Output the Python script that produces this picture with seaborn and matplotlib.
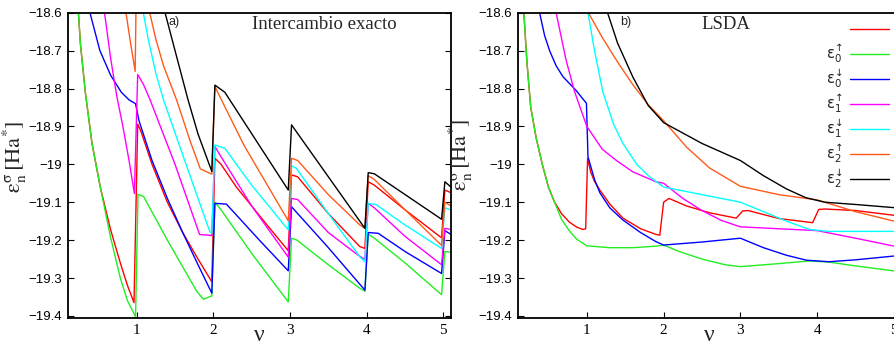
import matplotlib
matplotlib.use("Agg")
import matplotlib.pyplot as plt
import seaborn as sns

# ---------------- data: (a) Intercambio exacto ----------------
EXX_RED_X = [0.24, 0.265, 0.33, 0.417, 0.525, 0.656, 0.786, 0.88, 0.965,
             1.013, 1.05, 1.2, 1.4, 1.6, 1.8, 1.98,
             2.02, 2.1, 2.3, 2.5, 2.7, 2.977,
             3.02, 3.1, 3.5, 3.91, 3.977,
             4.02, 4.1, 4.5, 4.977, 5.02, 5.1]
EXX_RED_Y = [-18.6, -18.68, -18.81, -18.945, -19.06, -19.17, -19.26, -19.32, -19.365,
             -18.894, -18.91, -19.0, -19.1, -19.18, -19.25, -19.31,
             -18.984, -19.0, -19.06, -19.11, -19.16, -19.228,
             -19.028, -19.033, -19.13, -19.217, -19.222,
             -19.046, -19.055, -19.12, -19.194, -19.068, -19.075]

EXX_GREEN_X = [0.24, 0.265, 0.33, 0.417, 0.525, 0.656, 0.786, 0.88, 0.985,
               1.017, 1.09, 1.4, 1.786, 1.87, 1.98,
               2.02, 2.1, 2.5, 2.977,
               3.02, 3.09, 3.5, 3.91, 3.977,
               4.02, 4.1, 4.5, 4.977, 5.02, 5.1]
EXX_GREEN_Y = [-18.6, -18.68, -18.81, -18.945, -19.06, -19.19, -19.3, -19.36, -19.402,
               -19.079, -19.085, -19.2, -19.336, -19.356, -19.347,
               -19.1, -19.12, -19.235, -19.363,
               -19.195, -19.2, -19.265, -19.327, -19.335,
               -19.184, -19.195, -19.26, -19.344, -19.23, -19.232]

EXX_BLUE_X = [0.39, 0.52, 0.66, 0.8, 0.9, 0.985,
              1.03, 1.2, 1.4, 1.6, 1.8, 1.98,
              2.02, 2.17, 2.6, 2.977,
              3.02, 3.5, 3.977,
              4.02, 4.15, 4.5, 4.977, 5.02, 5.1]
EXX_BLUE_Y = [-18.6, -18.7, -18.765, -18.81, -18.83, -18.84,
              -18.885, -18.99, -19.09, -19.18, -19.265, -19.34,
              -19.103, -19.105, -19.2, -19.281,
              -19.112, -19.22, -19.332,
              -19.18, -19.182, -19.23, -19.288, -19.175, -19.185]

EXX_MAGENTA_X = [0.58, 0.66, 0.74, 0.82, 0.9, 0.97,
                 1.013, 1.09, 1.175, 1.5, 1.82, 1.98,
                 2.02, 2.1, 2.5, 2.977,
                 3.02, 3.1, 3.5, 3.89, 3.977,
                 4.02, 4.1, 4.5, 4.977, 5.02, 5.1]
EXX_MAGENTA_Y = [-18.6, -18.72, -18.82, -18.9, -18.99, -19.077,
                 -18.763, -18.79, -18.83, -19.0, -19.185, -19.188,
                 -18.953, -18.98, -19.11, -19.245,
                 -19.09, -19.093, -19.18, -19.24, -19.251,
                 -19.103, -19.115, -19.19, -19.265, -19.169, -19.172]

EXX_CYAN_X = [1.086, 1.15, 1.25, 1.35, 1.6, 1.8, 1.955, 1.98,
              2.02, 2.15, 2.5, 2.977,
              3.02, 3.08, 3.5, 3.91, 3.977,
              4.02, 4.12, 4.5, 4.977, 5.02, 5.1]
EXX_CYAN_Y = [-18.6, -18.67, -18.76, -18.83, -18.975, -19.09, -19.178, -19.182,
              -18.949, -18.958, -19.055, -19.173,
              -19.004, -19.01, -19.13, -19.244, -19.257,
              -19.103, -19.106, -19.16, -19.222, -19.115, -19.12]

EXX_ORANGE_X = [0.86, 0.92, 0.98, 1.0,
                1.17, 1.25, 1.35, 1.52, 1.7, 1.83, 1.98,
                2.02, 2.4, 2.977,
                3.02, 3.1, 3.5, 3.91, 3.977,
                4.02, 4.1, 4.5, 4.977, 5.02, 5.1]
EXX_ORANGE_Y = [-18.6, -18.68, -18.755, -18.45,
                -18.6, -18.67, -18.74, -18.83, -18.94, -19.012, -19.026,
                -18.795, -18.95, -19.149,
                -18.984, -18.99, -19.08, -19.16, -19.169,
                -19.03, -19.04, -19.12, -19.214, -19.1, -19.11]

EXX_BLACK_X = [1.37, 1.5, 1.67, 1.8, 1.98,
               2.02, 2.15, 2.977,
               3.02, 3.977,
               4.02, 4.1, 4.977, 5.02, 5.1]
EXX_BLACK_Y = [-18.6, -18.7, -18.83, -18.92, -19.019,
               -18.791, -18.81, -19.068,
               -18.896, -19.169,
               -19.022, -19.025, -19.145, -19.046, -19.06]

# ---------------- data: (b) LSDA ----------------
LSDA_RED_X = [0.18, 0.22, 0.27, 0.34, 0.42, 0.5, 0.58, 0.67, 0.77, 0.87, 0.95, 0.985,
              1.01, 1.05, 1.1, 1.17, 1.3, 1.47, 1.7, 1.9, 1.95,
              2.0, 2.07, 2.3, 2.6, 2.945,
              3.03, 3.1, 3.5, 3.94,
              4.02, 4.1, 4.5, 5.1]
LSDA_RED_Y = [-18.6, -18.73, -18.85, -18.93, -19.0, -19.06, -19.1, -19.13, -19.152, -19.166, -19.172, -19.17,
              -18.984, -19.02, -19.045, -19.068, -19.105, -19.142, -19.17, -19.185, -19.187,
              -19.1, -19.09, -19.11, -19.128, -19.142,
              -19.123, -19.122, -19.143, -19.154,
              -19.119, -19.118, -19.122, -19.137]

LSDA_GREEN_X = [0.18, 0.22, 0.27, 0.34, 0.42, 0.5, 0.58, 0.67, 0.77, 0.87, 1.0,
                1.3, 1.6, 1.9, 2.0, 2.2, 2.5, 2.8, 3.0, 3.5, 3.9, 4.15, 4.5, 5.1]
LSDA_GREEN_Y = [-18.6, -18.73, -18.85, -18.93, -19.0, -19.06, -19.1, -19.145, -19.175, -19.198, -19.215,
                -19.22, -19.22, -19.216, -19.213, -19.23, -19.25, -19.265, -19.27, -19.262, -19.255, -19.258, -19.268, -19.284]

LSDA_BLUE_X = [0.385, 0.45, 0.515, 0.6, 0.69, 0.86, 0.995,
               1.015, 1.1, 1.17, 1.3, 1.47, 1.7, 1.9, 2.0, 2.5, 3.0, 3.3, 3.6, 3.86, 4.15, 4.5, 5.1]
LSDA_BLUE_Y = [-18.6, -18.66, -18.7, -18.74, -18.769, -18.805, -18.839,
               -18.98, -19.04, -19.075, -19.115, -19.147, -19.18, -19.204, -19.213, -19.205, -19.195, -19.22, -19.24, -19.253, -19.257, -19.252, -19.24]

LSDA_MAGENTA_X = [0.6, 0.73, 0.84, 1.0, 1.2, 1.385, 1.6, 1.9, 2.0, 2.25, 2.5, 2.75, 3.0, 3.5, 4.0, 4.5, 5.1]
LSDA_MAGENTA_Y = [-18.6, -18.725, -18.808, -18.9, -18.96, -18.99, -19.02, -19.046, -19.05, -19.09, -19.122, -19.148, -19.165, -19.17, -19.175, -19.195, -19.22]

LSDA_CYAN_X = [1.015, 1.1, 1.21, 1.35, 1.47, 1.65, 1.8, 2.0, 2.5, 3.0, 3.3, 3.6, 3.9, 4.15, 5.1]
LSDA_CYAN_Y = [-18.6, -18.7, -18.81, -18.895, -18.945, -19.0, -19.03, -19.06, -19.08, -19.1, -19.125, -19.15, -19.172, -19.177, -19.177]

LSDA_ORANGE_X = [1.02, 1.2, 1.4, 1.6, 1.8, 2.0, 2.3, 2.6, 3.0, 3.5, 4.0, 4.5, 5.1]
LSDA_ORANGE_Y = [-18.6, -18.665, -18.73, -18.79, -18.843, -18.885, -18.955, -19.01, -19.058, -19.08, -19.094, -19.125, -19.155]

LSDA_BLACK_X = [1.27, 1.4, 1.6, 1.8, 2.0, 2.5, 3.0, 3.3, 3.6, 3.85, 4.1, 4.5, 5.1]
LSDA_BLACK_Y = [-18.6, -18.68, -18.77, -18.845, -18.89, -18.945, -18.99, -19.03, -19.065, -19.088, -19.1, -19.106, -19.116]

COLORS = ["#ff0000", "#22ee22", "#0000ff", "#ff00ff", "#00ffff", "#ff5a1a", "#000000"]
LEGEND_LABELS = [r"$\mathregular{ε_0^{↑}}$", r"$\mathregular{ε_0^{↑}}$",
                 r"$\mathregular{ε_0^{↓}}$", r"$\mathregular{ε_1^{↑}}$",
                 r"$\mathregular{ε_1^{↓}}$", r"$\mathregular{ε_2^{↑}}$",
                 r"$\mathregular{ε_2^{↓}}$"]
YLABEL = r"$\mathrm{ε}_{\mathrm{n}}^{\mathrm{σ}}\,[\mathrm{Ha}^{*}]$"
XLABEL = "\u03bd"
YTICKS = [-18.6, -18.7, -18.8, -18.9, -19.0, -19.1, -19.2, -19.3, -19.4]
YTICK_LABELS = ["\u221218.6", "\u221218.7", "\u221218.8", "\u221218.9", "\u221219",
                "\u221219.1", "\u221219.2", "\u221219.3", "\u221219.4"]
XTICKS = [1, 2, 3, 4, 5]
XTICK_LABELS = ["1", "2", "3", "4", "5"]

EXX = [(EXX_RED_X, EXX_RED_Y), (EXX_GREEN_X, EXX_GREEN_Y), (EXX_BLUE_X, EXX_BLUE_Y),
       (EXX_MAGENTA_X, EXX_MAGENTA_Y), (EXX_CYAN_X, EXX_CYAN_Y),
       (EXX_ORANGE_X, EXX_ORANGE_Y), (EXX_BLACK_X, EXX_BLACK_Y)]
LSDA = [(LSDA_RED_X, LSDA_RED_Y), (LSDA_GREEN_X, LSDA_GREEN_Y), (LSDA_BLUE_X, LSDA_BLUE_Y),
        (LSDA_MAGENTA_X, LSDA_MAGENTA_Y), (LSDA_CYAN_X, LSDA_CYAN_Y),
        (LSDA_ORANGE_X, LSDA_ORANGE_Y), (LSDA_BLACK_X, LSDA_BLACK_Y)]

sns.set_theme(style="white")
plt.rcParams["font.family"] = ["Liberation Sans", "DejaVu Sans"]
plt.rcParams["mathtext.fontset"] = "dejavusans"

W, H = 895, 347
fig = plt.figure(figsize=(W / 100, H / 100), dpi=100)


def px_axes(l, t, r, b):
    return [l / W, 1 - b / H, (r - l) / W, (b - t) / H]


ax1 = fig.add_axes(px_axes(67.7, 12.7, 451, 318))
ax2 = fig.add_axes(px_axes(517.7, 12.7, 901.7, 318))

for ax, series in ((ax1, EXX), (ax2, LSDA)):
    for (xs, ys), c in zip(series, COLORS):
        sns.lineplot(x=xs, y=ys, ax=ax, color=c, lw=1.0, estimator=None, sort=False)
    ax.set_xlim(0.1, 5.1)
    ax.set_ylim(-19.4055, -18.6)
    ax.set_yticks(YTICKS)
    ax.set_yticklabels(YTICK_LABELS, family="Liberation Sans", fontsize=9.5)
    ax.set_xticks(XTICKS)
    ax.set_xticklabels(XTICK_LABELS, family="Liberation Serif", fontsize=11)
    ax.tick_params(axis="y", direction="in", left=True, right=True, length=4, width=0.8, pad=4, colors="black")
    ax.tick_params(axis="x", direction="in", bottom=True, top=False, length=4, width=0.8, pad=4, colors="black")
    for s in ax.spines.values():
        s.set_color("black")
        s.set_linewidth(1.3)
    ax.set_ylabel(YLABEL, fontsize=16, math_fontfamily="stix")
    ax.set_xlabel(XLABEL, fontsize=17, family="Liberation Serif")
    ax.xaxis.set_label_coords(0.5, -0.022)

ax1.yaxis.set_label_coords(-0.1, 0.527)
ax2.yaxis.set_label_coords(-0.11, 0.534)

ax1.text(0.263, 0.99, "a)", transform=ax1.transAxes, ha="left", va="top", fontsize=9)
ax2.text(0.266, 0.99, "b)", transform=ax2.transAxes, ha="left", va="top", fontsize=9)
ax1.text(0.669, 0.96, "Intercambio exacto", transform=ax1.transAxes, ha="center", va="center",
         fontsize=13.5, family="Liberation Serif")
ax2.text(0.5424, 0.96, "LSDA", transform=ax2.transAxes, ha="center", va="center",
         fontsize=13.5, family="Liberation Serif")

handles = ax2.get_lines()[:7]
leg = ax2.legend(handles, LEGEND_LABELS, loc="upper right", bbox_to_anchor=(889 / W, 1 - 18 / H),
                 bbox_transform=fig.transFigure, frameon=False, markerfirst=False,
                 prop={"family": "DejaVu Sans", "size": 10.5}, handlelength=2.7,
                 handletextpad=0.5, labelspacing=0.17, borderpad=0, borderaxespad=0)
leg.get_texts()[0].set_alpha(0)
for t in leg.get_texts():
    t.set_color("#222222")

fig.savefig("out.png", dpi=100)
